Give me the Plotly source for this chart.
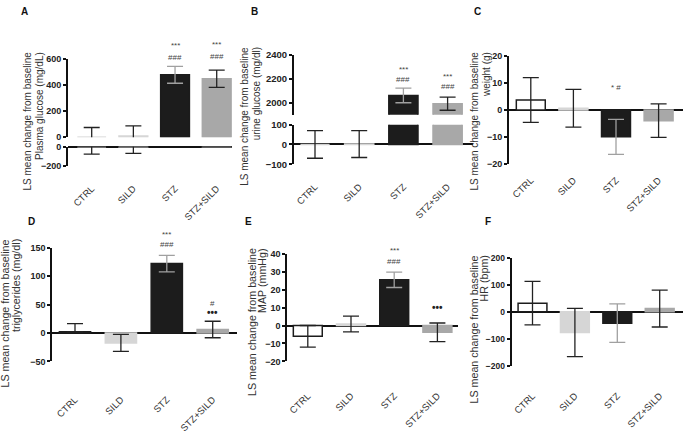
import plotly.graph_objects as go

W, H = 685, 433

# ---------------- data ----------------
categories = ["CTRL", "SILD", "STZ", "STZ+SILD"]

glucose_mean = [0, 10, 480, 450]
glucose_sem = [75, 78, 65, 66]

urine_mean = [0, 2, 2060, 1990]
urine_sem = [70, 68, 62, 55]

weight_mean = [3.7, 0.6, -10.0, -4.0]
weight_sem = [8.3, 7.0, 6.5, 6.2]

tg_mean = [2, -17.5, 122, 6]
tg_sem_up = [14.5, 15, 14.5, 14.5]
tg_sem_down = [0, 15, 14.5, 14.5]

map_mean = [-6.0, 0.8, 25.5, -3.8]
map_sem = [6.0, 4.4, 4.3, 5.2]

hr_mean = [32, -76, -42, 12]
hr_sem = [80, 89, 71, 68]

# significance marks, rows listed top to bottom
sig_glucose = [[], [], ["***", "###"], ["***", "###"]]
sig_urine = [[], [], ["***", "###"], ["***", "###"]]
sig_weight = [[], [], ["* #"], []]
sig_tg = [[], [], ["***", "###"], ["#", "•••"]]
sig_map = [[], [], ["***", "###"], ["•••"]]
sig_hr = [[], [], [], []]

title_common = "LS mean change from baseline"
title_units = ["Plasma glucose (mg/dL)", "urine glucose (mg/dl)", "weight (g)",
               "triglycerides (mg/dl)", "MAP (mmHg)", "HR (bpm)"]

# ---------------- styles ----------------
FONT = "Liberation Sans, Arial, sans-serif"
fills = ["#ffffff", "#d6d6d6", "#1c1c1c", "#a8a8a8"]
err_colors = ["#222222", "#222222", "#a0a0a0", "#222222"]


def px_x(x):
    return x / W


def px_y(y):
    return 1 - y / H


panels = [
    dict(letter="A", letter_xy=(24, 6), mean=glucose_mean, up=glucose_sem, down=glucose_sem,
         sig=sig_glucose, sig_shift=[0, 0, 3, 8], row_gap=12,
         title_x=(28, 39), title_top=48, title_size=10,
         x0=68, x1=232, c0=91.7, sp=41.67, bw=0.69, label_y=186, tickfont=9,
         ctrl_line="#d0d0d0",
         segs=[dict(range=[0, 600], top=56.7, bottom=140, ticks=[0, 200, 400, 600], zero=False),
               dict(range=[-200, 0], top=150, bottom=171, ticks=[-200, 0], zero=True)]),
    dict(letter="B", letter_xy=(254, 6), mean=urine_mean, up=urine_sem, down=urine_sem,
         sig=sig_urine, sig_shift=[0, 0, 3, 5], row_gap=10,
         title_x=(245, 256.5), title_top=43, title_size=10,
         x0=294, x1=473, c0=315, sp=44.2, bw=0.66, label_y=184, tickfont=9.5,
         ctrl_line="#d0d0d0",
         segs=[dict(range=[1897, 2400], top=52.3, bottom=116, ticks=[2000, 2200, 2400], zero=False),
               dict(range=[-100, 100], top=126.7, bottom=168.7, ticks=[-100, 0, 100], zero=True)]),
    dict(letter="C", letter_xy=(478, 6), mean=weight_mean, up=weight_sem, down=weight_sem,
         sig=sig_weight, sig_shift=[0, 0, 17, 0], row_gap=10,
         title_x=(475, 486.5), title_top=48, title_size=10,
         x0=509, x1=683, c0=530.8, sp=42.6, bw=0.68, label_y=177, tickfont=9,
         ctrl_line="#1c1c1c",
         segs=[dict(range=[-20, 20], top=53.3, bottom=168.3, ticks=[-20, -10, 0, 10, 20], zero=True)]),
    dict(letter="D", letter_xy=(31, 230), mean=tg_mean, up=tg_sem_up, down=tg_sem_down,
         sig=sig_tg, sig_shift=[0, 0, 5, 2], row_gap=10,
         title_x=(5, 16), title_top=248, title_size=10.7,
         x0=52.3, x1=236.7, c0=75, sp=45.9, bw=0.68, label_y=411, tickfont=9,
         ctrl_line="#1c1c1c",
         segs=[dict(range=[-50, 150], top=257.7, bottom=379, ticks=[-50, 0, 50, 100, 150], zero=True)]),
    dict(letter="E", letter_xy=(248, 230), mean=map_mean, up=map_sem, down=map_sem,
         sig=sig_map, sig_shift=[0, 0, 5, 9], row_gap=11,
         title_x=(252, 262.5), title_top=257, title_size=10.7,
         x0=287.3, x1=457.7, c0=307.8, sp=43.2, bw=0.67, label_y=407, tickfont=9,
         ctrl_line="#1c1c1c",
         segs=[dict(range=[-20, 40], top=264.3, bottom=379, ticks=[-20, -10, 0, 10, 20, 30, 40], zero=True)]),
    dict(letter="F", letter_xy=(488, 230), mean=hr_mean, up=hr_sem, down=hr_sem,
         sig=sig_hr, sig_shift=[0, 0, 0, 0], row_gap=10,
         title_x=(474, 484), title_top=265, title_size=10.7,
         x0=511.7, x1=683, c0=532.5, sp=42.4, bw=0.68, label_y=407, tickfont=8.5,
         ctrl_line="#1c1c1c",
         segs=[dict(range=[-200, 200], top=268.3, bottom=384, ticks=[-200, -100, 0, 100, 200], zero=True)]),
]

fig = go.Figure()
layout = dict(
    width=W, height=H,
    margin=dict(l=0, r=0, t=0, b=0),
    paper_bgcolor="white", plot_bgcolor="white",
    barmode="overlay", showlegend=False,
    font=dict(family=FONT, color="#222222"),
)
annotations = []
yi = 0
for pi, p in enumerate(panels):
    xname = "xaxis" if pi == 0 else f"xaxis{pi + 1}"
    xref = "x" if pi == 0 else f"x{pi + 1}"
    xr = [-(p["c0"] - p["x0"]) / p["sp"], (p["x1"] - p["c0"]) / p["sp"]]
    layout[xname] = dict(
        domain=[px_x(p["x0"]), px_x(p["x1"])], range=xr, anchor="free",
        position=px_y(p["label_y"]), type="category",
        categoryorder="array", categoryarray=categories,
        showline=False, ticks="", showgrid=False, zeroline=False,
        tickangle=-45, tickfont=dict(size=9.5, color="#333333", family=FONT),
        fixedrange=True,
    )
    seg_refs = []
    for si, s in enumerate(p["segs"]):
        yi += 1
        yname = "yaxis" if yi == 1 else f"yaxis{yi}"
        yref = "y" if yi == 1 else f"y{yi}"
        seg_refs.append((yref, s))
        layout[yname] = dict(
            domain=[px_y(s["bottom"]), px_y(s["top"])], range=s["range"], anchor=xref,
            tickvals=s["ticks"], showline=True, linecolor="#111111", linewidth=2,
            ticks="outside", ticklen=3, tickwidth=2, tickcolor="#111111",
            showgrid=False, zeroline=s["zero"], zerolinecolor="#111111", zerolinewidth=2,
            tickfont=dict(size=p["tickfont"], color="#222222", family=FONT, weight="bold"),
            fixedrange=True,
        )
        for ci, cat in enumerate(categories):
            line_col = p["ctrl_line"] if ci == 0 else fills[ci]
            fig.add_trace(go.Bar(
                x=[cat], y=[p["mean"][ci]], width=[p["bw"]],
                xaxis=xref, yaxis=yref,
                marker=dict(color=fills[ci], line=dict(color=line_col, width=1.5)),
                error_y=dict(type="data", symmetric=False, array=[p["up"][ci]],
                             arrayminus=[p["down"][ci]], color=err_colors[ci],
                             thickness=1.3, width=8),
                hoverinfo="skip",
            ))
    # significance marks (one annotation per row, stacked upwards)
    for ci, cat in enumerate(categories):
        rows = p["sig"][ci]
        if not rows:
            continue
        top_val = max(p["mean"][ci] + p["up"][ci], 0)
        yref_use = seg_refs[0][0]
        for yr, s in seg_refs:
            if s["range"][0] <= top_val <= s["range"][1]:
                yref_use = yr
                break
        for k, row in enumerate(reversed(rows)):
            dots = row == "•••"
            annotations.append(dict(
                x=cat, y=top_val, xref=xref, yref=yref_use,
                text="<b>" + row + "</b>" if dots else row, showarrow=False,
                xanchor="center", yanchor="bottom",
                yshift=p["sig_shift"][ci] + k * p["row_gap"], borderpad=0,
                font=dict(size=10 if dots else 8, color="#222222" if dots else "#444444",
                          family=FONT),
            ))
    # y title (two rotated lines, aligned at the top)
    for line_txt, lx in zip([title_common, title_units[pi]], p["title_x"]):
        annotations.append(dict(
            x=px_x(lx), y=px_y(p["title_top"]), xref="paper", yref="paper", text=line_txt,
            showarrow=False, textangle=-90, xanchor="center", yanchor="top",
            borderpad=0,
            font=dict(size=p["title_size"], color="#333333", family=FONT),
        ))
    # panel letter
    lx, ly = p["letter_xy"]
    annotations.append(dict(
        x=px_x(lx), y=px_y(ly), xref="paper", yref="paper", text="<b>" + p["letter"] + "</b>",
        showarrow=False, xanchor="center", yanchor="middle",
        font=dict(size=10, color="#111111", family=FONT),
    ))

layout["annotations"] = annotations
fig.update_layout(**layout)
fig.write_html(
    "out.html",
    config={"displayModeBar": False},
    post_script="document.body.style.margin='0';document.body.style.overflow='hidden';",
)
